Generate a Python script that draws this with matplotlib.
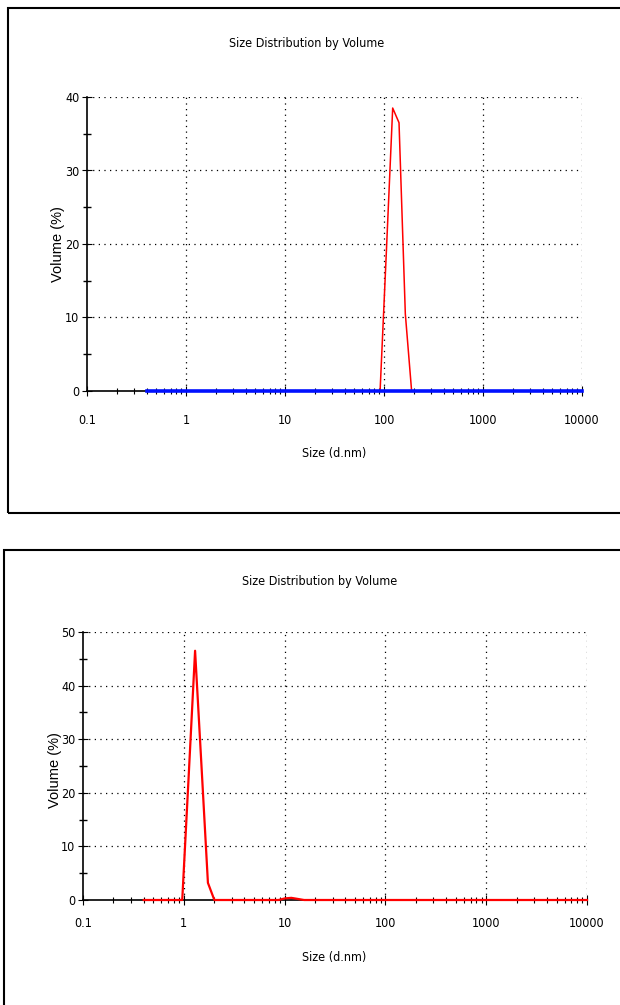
import matplotlib
matplotlib.use("Agg")
import matplotlib.pyplot as plt
from matplotlib.patches import Rectangle
from matplotlib.ticker import LogLocator, FixedLocator, NullFormatter
import numpy as np

# ---------------- data ----------------
title_text = "Size Distribution by Volume"
xlabel_text = "Size (d.nm)"
ylabel_text = "Volume (%)"
xtick_vals = [0.1, 1, 10, 100, 1000, 10000]
xtick_labels = ["0.1", "1", "10", "100", "1000", "10000"]

# top chart: red record (peak near 100 nm), blue record flat at zero
top_red_size = [91.3, 105.7, 122.4, 141.8, 164.2, 190.1]
top_red_vol = [0.0, 19.0, 38.5, 36.5, 10.5, 0.0]
top_blue_size = [0.4, 10000]
top_blue_vol = [0.0, 0.0]
top_yticks = [0, 10, 20, 30, 40]

# bottom chart: red record (peak near 1.3 nm, small bump near 11 nm)
bot_red_size = [0.4, 0.965, 1.117, 1.294, 1.498, 1.735, 2.01,
                8.69, 10.07, 11.66, 13.5, 15.6, 10000]
bot_red_vol = [0.0, 0.0, 23.0, 46.5, 25.0, 3.2, 0.0,
               0.0, 0.3, 0.4, 0.2, 0.0, 0.0]
bot_yticks = [0, 10, 20, 30, 40, 50]

# ---------------- figure ----------------
W, H = 620, 1005
fig = plt.figure(figsize=(W / 100, H / 100), dpi=100)
narrow = dict(fontfamily=["DejaVu Sans"], fontstretch="condensed")
regular = dict(fontfamily=["Liberation Sans", "DejaVu Sans"])


def fx(px):
    return px / W


def fy(py):
    return 1 - py / H


def style_axes(ax, ymax, yticks, xpad):
    ax.set_xscale("log")
    ax.set_xlim(0.1, 10000)
    ax.set_ylim(0, ymax)
    ax.xaxis.set_major_locator(FixedLocator(xtick_vals))
    ax.set_xticklabels(xtick_labels, fontsize=9, **narrow)
    ax.xaxis.set_minor_locator(LogLocator(base=10, subs=np.arange(2, 10)))
    ax.xaxis.set_minor_formatter(NullFormatter())
    ax.set_yticks(yticks)
    ax.set_yticklabels([str(v) for v in yticks], fontsize=9, **narrow)
    ax.yaxis.set_minor_locator(FixedLocator(np.arange(5, ymax, 10)))
    ax.tick_params(axis="both", which="both", direction="inout", color="black")
    ax.tick_params(axis="x", which="major", length=7, width=0.8, pad=xpad)
    ax.tick_params(axis="x", which="minor", length=5, width=0.8)
    ax.tick_params(axis="y", which="major", length=7, width=0.8, pad=2)
    ax.tick_params(axis="y", which="minor", length=6, width=1.0)
    for s in ["top", "right"]:
        ax.spines[s].set_visible(False)
    for s in ["left", "bottom"]:
        ax.spines[s].set_linewidth(1.2)
        ax.spines[s].set_color("black")
    # dotted grid incl. top / right boundary
    for v in yticks[1:]:
        ax.axhline(v, color="black", lw=0.9, ls=(0, (1, 3.5)), zorder=1)
    for v in xtick_vals[1:]:
        ax.axvline(v, color="black", lw=0.9, ls=(0, (1, 3.5)), zorder=1)


# ---- top chart ----
ax1 = fig.add_axes([fx(87), fy(391), fx(582) - fx(87), fy(97) - fy(391)])
style_axes(ax1, 40, top_yticks, 13)
ax1.plot(top_red_size, top_red_vol, color="#ff0000", lw=1.1, zorder=3)
ax1.plot(top_blue_size, top_blue_vol, color="#0010ff", lw=2.6, zorder=4,
         clip_on=False)
fig.text(fx(307), fy(43), title_text, ha="center", va="center",
         fontsize=9, **narrow)
fig.text(fx(334), fy(453), xlabel_text, ha="center", va="center",
         fontsize=9, **narrow)
fig.text(fx(58), fy(244), ylabel_text, ha="center", va="center",
         rotation=90, fontsize=10.5, **regular)

# ---- bottom chart ----
ax2 = fig.add_axes([fx(83), fy(900), fx(587) - fx(83), fy(632) - fy(900)])
style_axes(ax2, 50, bot_yticks, 9)
ax2.plot(bot_red_size, bot_red_vol, color="#ff0000", lw=1.6, zorder=4,
         clip_on=False)
fig.text(fx(320), fy(581), title_text, ha="center", va="center",
         fontsize=9, **narrow)
fig.text(fx(334), fy(957), xlabel_text, ha="center", va="center",
         fontsize=9, **narrow)
fig.text(fx(55), fy(770), ylabel_text, ha="center", va="center",
         rotation=90, fontsize=10.5, **regular)

# ---- panel frames ----
fig.add_artist(Rectangle((fx(8), fy(513)), fx(640) - fx(8), fy(8) - fy(513),
                         transform=fig.transFigure, fill=False,
                         edgecolor="black", lw=1.5))
fig.add_artist(Rectangle((fx(4), fy(1030)), fx(640) - fx(4), fy(550) - fy(1030),
                         transform=fig.transFigure, fill=False,
                         edgecolor="black", lw=1.5))

fig.savefig("out.png", dpi=100, facecolor="white")
